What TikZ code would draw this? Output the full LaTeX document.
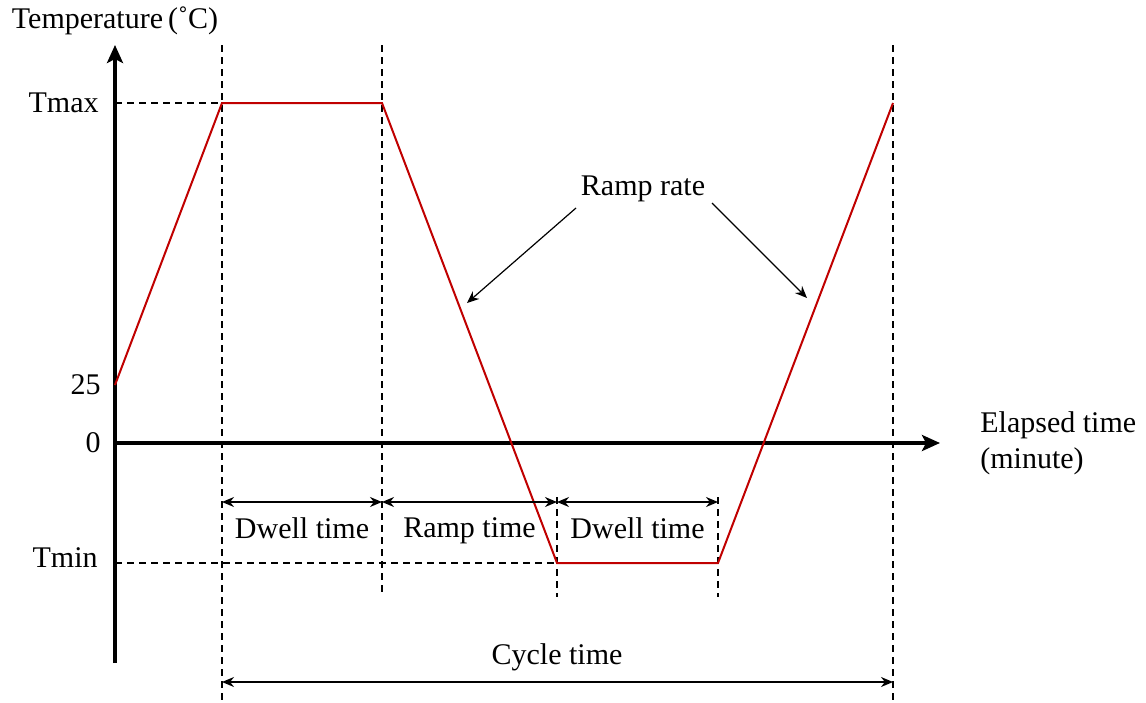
\documentclass[tikz,border=0pt]{standalone}
\usepackage{fontspec}
\setmainfont{Liberation Serif}
\usetikzlibrary{arrows.meta}
\definecolor{profred}{RGB}{192,0,0}
\begin{document}
\begin{tikzpicture}[
        x=0.5pt, y=-0.5pt,
        font=\fontsize{15}{18}\selectfont,
        axis/.style={line width=2pt, -{Stealth[length=9pt, width=8pt, inset=2pt]}},
        profile/.style={profred, line width=1pt},
        guide/.style={line width=1pt, dash pattern=on 3.5pt off 2.5pt},
        span/.style={line width=0.7pt, {Stealth[length=6pt, width=5pt]}-{Stealth[length=6pt, width=5pt]}},
        pointer/.style={line width=0.6pt, -{Stealth[length=6pt, width=5pt]}},
        label/.style={inner sep=1pt}
    ]
        \useasboundingbox (0,0) rectangle (1146,702);

% Axes
        \coordinate (origin) at (115,443);
        \coordinate (ytop) at (115,45);
        \coordinate (ybot) at (115,663);
        \coordinate (xend) at (940,443);
        \draw[axis] (ybot) -- (ytop);
        \draw[axis] (origin) -- (xend);

% Profile corners
        \coordinate (start) at (115,385);
        \coordinate (hotA) at (222,103);
        \coordinate (hotB) at (382,103);
        \coordinate (coldA) at (557,563);
        \coordinate (coldB) at (718,563);
        \coordinate (hotC) at (893,103);
        \coordinate (ymax) at (115,103);
        \coordinate (ymin) at (115,563);

% Guide lines
        \draw[guide] (ymax) -- (hotA);
        \draw[guide] (ymin) -- (coldA);
        \draw[guide] (222,45) -- (222,700);
        \draw[guide] (382,45) -- (382,595);
        \draw[guide] (557,497) -- (557,597);
        \draw[guide] (718,497) -- (718,597);
        \draw[guide] (893,45) -- (893,700);

        \draw[profile] (start) -- (hotA) -- (hotB) -- (coldA) -- (coldB) -- (hotC);

% Axis labels
        \node[label] (ylab) at (115,21) {Temperature\,(\char"02DA C)};
        \node[label, anchor=east] (tmax) at (101,103) {Tmax};
        \node[label, anchor=east] (t25) at (103,385) {25};
        \node[label, anchor=east] (t0) at (103,443) {0};
        \node[label, anchor=east] (tmin) at (100,558) {Tmin};
        \node[label, anchor=west, align=left] (xlab) at (978,443) {Elapsed time\\(minute)};

% Spans
        \coordinate (s1) at (222,502);
        \coordinate (s2) at (382,502);
        \coordinate (s3) at (557,502);
        \coordinate (s4) at (718,502);
        \draw[span] (s1) -- node[below=4pt] (dwellA) {Dwell time} (s2);
        \draw[span] (s2) -- node[below=4pt] (ramp) {Ramp time} (s3);
        \draw[span] (s3) -- node[below=4pt] (dwellB) {Dwell time} (s4);
        \coordinate (c1) at (222,682);
        \coordinate (c2) at (893,682);
        \draw[span] (c1) -- (c2);
        \node[label] (cycle) at (557,657) {Cycle time};

% Ramp rate
        \node[label] (rate) at (643,189) {Ramp rate};
        \coordinate (downtip) at (467,303);
        \coordinate (uptip) at (807,298);
        \draw[pointer] (576,208) -- (downtip);
        \draw[pointer] (712,203) -- (uptip);
    \end{tikzpicture}
\end{document}
